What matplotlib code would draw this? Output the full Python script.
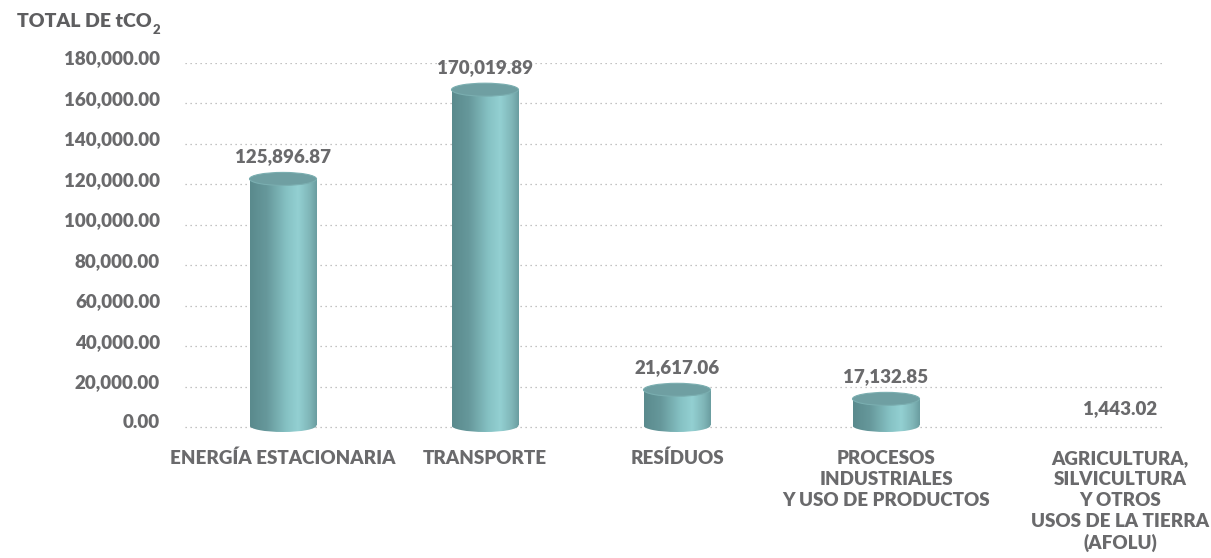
import numpy as np
import matplotlib
matplotlib.use("Agg")
import matplotlib.pyplot as plt
from matplotlib.patches import Ellipse, Rectangle
from matplotlib.colors import LinearSegmentedColormap
from matplotlib.transforms import ScaledTranslation

categories = ["ENERGÍA ESTACIONARIA", "TRANSPORTE", "RESÍDUOS",
              "PROCESOS\nINDUSTRIALES\nY USO DE PRODUCTOS",
              "AGRICULTURA,\nSILVICULTURA\nY OTROS\nUSOS DE LA TIERRA\n(AFOLU)"]
values = [125896.87, 170019.89, 21617.06, 17132.85, 1443.02]
value_labels = ["125,896.87", "170,019.89", "21,617.06", "17,132.85", "1,443.02"]
yticks = [0, 20000, 40000, 60000, 80000, 100000, 120000, 140000, 160000, 180000]
ytick_labels = ["0.00", "20,000.00", "40,000.00", "60,000.00", "80,000.00",
                "100,000.00", "120,000.00", "140,000.00", "160,000.00", "180,000.00"]

# layout constants (category slot positions)
x_pos = [0.0, 1.01, 1.97, 3.015, 4.185]

W, H = 1211, 558
fig = plt.figure(figsize=(W / 100, H / 100), dpi=100)
L, R, Y0, T = 185, 1165, 427, 63
EXTRA = 14  # px of axes below zero line for the cylinder bottoms
pxu = 180000 / (Y0 - T)  # data units per pixel
ax = fig.add_axes([L / W, (H - Y0 - EXTRA) / H, (R - L) / W, (Y0 + EXTRA - T) / H])
ax.set_xlim(-0.49, 4.41)
ax.set_ylim(-EXTRA * pxu, 180000)

TXT = "#6a6a6c"
FONT = "Lato"
WT = "heavy"

for yv in yticks:
    ax.axhline(yv, color="#b0b0b0", lw=0.9, ls=(0, (1, 3)), zorder=0)

for s in ax.spines.values():
    s.set_visible(False)
ax.set_xticks([])
ax.set_yticks(yticks)
ax.set_yticklabels(ytick_labels, fontfamily=FONT, fontweight=WT, fontsize=13.5, color=TXT)
ax.tick_params(axis="y", length=0, pad=18)
for lab in ax.get_yticklabels():
    lab.set_transform(lab.get_transform() + ScaledTranslation(0, 5.5 / 100, fig.dpi_scale_trans))

cmap = LinearSegmentedColormap.from_list("cyl", [
    (0.0, "#5a8a8d"), (0.25, "#66989b"), (0.55, "#86c2c4"),
    (0.72, "#93d0d2"), (0.9, "#7fb5b7"), (1.0, "#6a9da0")])
grad = np.linspace(0, 1, 256).reshape(1, -1)

bw = 0.335
eh = 13 * pxu  # ellipse height in data units (~13 px)

for xp, v in zip(x_pos, values):
    if v < 5000:
        continue
    x0 = xp - bw / 2
    ytop = v - eh / 2
    ybot = 1.5 * pxu
    e_bot = Ellipse((xp, ybot), bw, eh, facecolor="none", edgecolor="none")
    ax.add_patch(e_bot)
    im = ax.imshow(grad, cmap=cmap, aspect="auto", extent=[x0, x0 + bw, ybot - eh, ybot + eh],
                   zorder=2, interpolation="bicubic")
    im.set_clip_path(e_bot)
    rect = Rectangle((x0, ybot), bw, ytop - ybot, facecolor="none", edgecolor="none")
    ax.add_patch(rect)
    im2 = ax.imshow(grad, cmap=cmap, aspect="auto", extent=[x0, x0 + bw, ybot, ytop],
                    zorder=2, interpolation="bicubic")
    im2.set_clip_path(rect)
    e_top = Ellipse((xp, ytop), bw, eh, facecolor="#6f9fa2", edgecolor="#7aaeb0", lw=0.8, zorder=3)
    ax.add_patch(e_top)

for xp, v, lab in zip(x_pos, values, value_labels):
    ax.annotate(lab, (xp, v), xytext=(0, 5), textcoords="offset points",
                ha="center", va="bottom", fontfamily=FONT, fontweight=WT,
                fontsize=13.5, color=TXT, zorder=5)

for xp, c in zip(x_pos, categories):
    ax.annotate(c, (xp, 0), xytext=(0, -16.5), textcoords="offset points",
                ha="center", va="top", fontfamily=FONT, fontweight=WT,
                fontsize=13.5, color=TXT, linespacing=1.28, annotation_clip=False)

t1 = fig.text(17 / W, 1 - 27 / H, "TOTAL DE tCO", fontfamily=FONT, fontweight=WT,
              fontsize=14, color="#5e5e60", ha="left", va="baseline")
fig.canvas.draw()
bb = t1.get_window_extent()
fig.text((bb.x1 + 1) / W, 1 - 34 / H, "2", fontfamily=FONT, fontweight=WT,
         fontsize=9.5, color="#5e5e60", ha="left", va="baseline")

fig.savefig("out.png", dpi=100)
